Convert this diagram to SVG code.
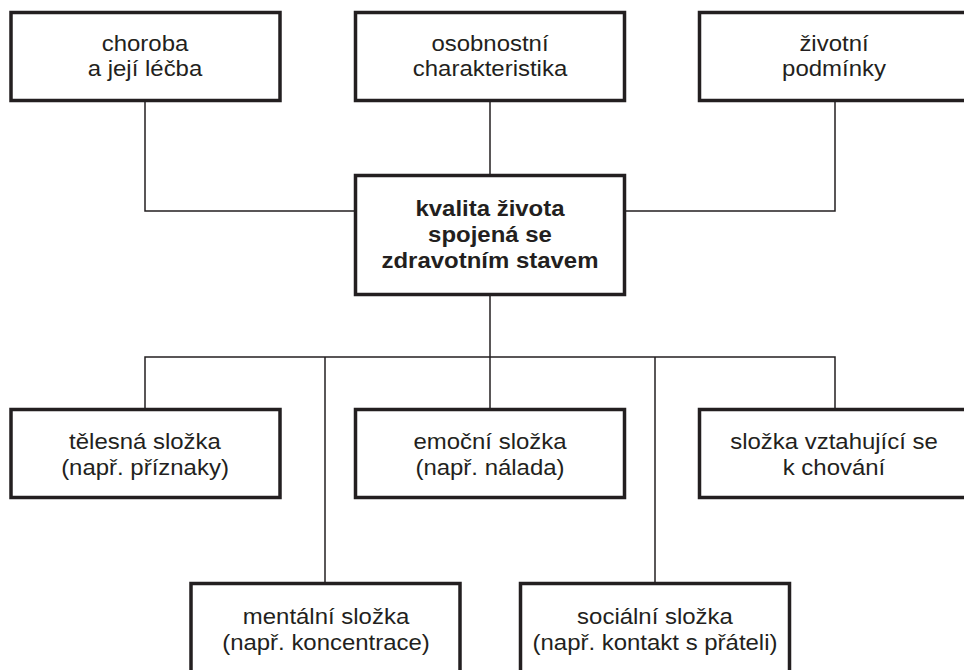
<svg xmlns="http://www.w3.org/2000/svg" width="964" height="670" viewBox="0 0 964 670">
<style>
.box{fill:#fff;stroke:#231f20;stroke-width:3.5}
.t{font-family:"Liberation Sans",Arial,sans-serif;font-size:21.5px;fill:#231f20;text-anchor:middle}
.b{font-weight:bold}
.c{fill:none;stroke:#231f20;stroke-width:1.5}
</style>
<rect width="964" height="670" fill="#fff"/>
<g id="connectors">
<path class="c" d="M145,101 V211 H355"/>
<path class="c" d="M490,101 V174"/>
<path class="c" d="M835,101 V211 H625"/>
<path class="c" d="M490,296 V357"/>
<path class="c" d="M145,408 V357 H835 V408"/>
<path class="c" d="M490,357 V408"/>
<path class="c" d="M325,357 V582"/>
<path class="c" d="M655,357 V582"/>
</g>
<g id="n-choroba">
<rect class="box" x="11" y="12.5" width="269" height="88"/>
<text class="t" transform="matrix(1.115 0 0 1 145 51)">choroba</text>
<text class="t" transform="matrix(1.115 0 0 1 145 76)">a její léčba</text>
</g>
<g id="n-osobnostni">
<rect class="box" x="355.5" y="12.5" width="269" height="88"/>
<text class="t" transform="matrix(1.115 0 0 1 490 51)">osobnostní</text>
<text class="t" transform="matrix(1.115 0 0 1 490 76)">charakteristika</text>
</g>
<g id="n-zivotni">
<rect class="box" x="699.5" y="12.5" width="269" height="88"/>
<text class="t" transform="matrix(1.115 0 0 1 834 51)">životní</text>
<text class="t" transform="matrix(1.115 0 0 1 834 76)">podmínky</text>
</g>
<g id="n-kvalita">
<rect class="box" x="355.5" y="175.5" width="269" height="119"/>
<text class="t b" transform="matrix(1.115 0 0 1 490 216)">kvalita života</text>
<text class="t b" transform="matrix(1.115 0 0 1 490 242)">spojená se</text>
<text class="t b" transform="matrix(1.115 0 0 1 490 268)">zdravotním stavem</text>
</g>
<g id="n-telesna">
<rect class="box" x="11" y="409.5" width="269" height="88"/>
<text class="t" transform="matrix(1.115 0 0 1 145 449)">tělesná složka</text>
<text class="t" transform="matrix(1.115 0 0 1 145 475)">(např. příznaky)</text>
</g>
<g id="n-emocni">
<rect class="box" x="355.5" y="409.5" width="269" height="88"/>
<text class="t" transform="matrix(1.115 0 0 1 490 449)">emoční složka</text>
<text class="t" transform="matrix(1.115 0 0 1 490 475)">(např. nálada)</text>
</g>
<g id="n-chovani">
<rect class="box" x="699.5" y="409.5" width="269" height="88"/>
<text class="t" transform="matrix(1.115 0 0 1 834 449)">složka vztahující se</text>
<text class="t" transform="matrix(1.115 0 0 1 834 475)">k chování</text>
</g>
<g id="n-mentalni">
<rect class="box" x="191" y="583.5" width="269" height="100"/>
<text class="t" transform="matrix(1.115 0 0 1 326 624)">mentální složka</text>
<text class="t" transform="matrix(1.115 0 0 1 326 650)">(např. koncentrace)</text>
</g>
<g id="n-socialni">
<rect class="box" x="520.5" y="583.5" width="269" height="100"/>
<text class="t" transform="matrix(1.115 0 0 1 655 624)">sociální složka</text>
<text class="t" transform="matrix(1.115 0 0 1 655 650)">(např. kontakt s přáteli)</text>
</g>
</svg>
